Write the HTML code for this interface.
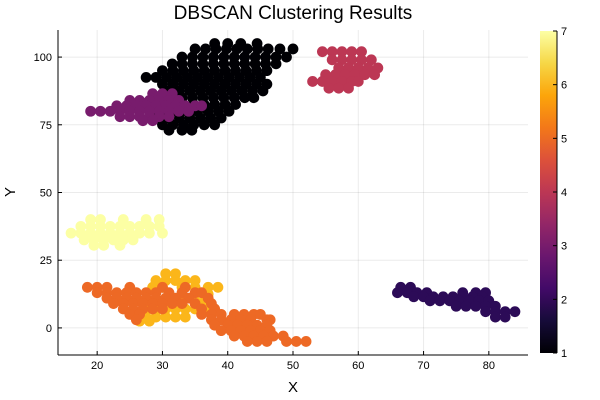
<!DOCTYPE html>
<html><head><meta charset="utf-8"><style>
body{margin:0;background:#fff}
svg{display:block;font-family:"Liberation Sans",sans-serif}
</style></head><body>
<svg id="chart" width="600" height="400" viewBox="0 0 600 400">
<defs><linearGradient id="inf" x1="0" y1="1" x2="0" y2="0">
<stop offset="0" stop-color="#000004"/><stop offset="0.1" stop-color="#160b39"/><stop offset="0.2" stop-color="#420a68"/><stop offset="0.3" stop-color="#6a176e"/><stop offset="0.4" stop-color="#932667"/><stop offset="0.5" stop-color="#bc3754"/><stop offset="0.6" stop-color="#dd513a"/><stop offset="0.7" stop-color="#f37819"/><stop offset="0.8" stop-color="#fca50a"/><stop offset="0.9" stop-color="#f6d746"/><stop offset="1" stop-color="#fcffa4"/>
</linearGradient></defs>
<text x="293" y="19" font-size="19" text-anchor="middle" fill="#000">DBSCAN Clustering Results</text>
<g id="grid"></g>
<g id="marks"></g>
<g id="axes"></g>
<text x="293" y="392" font-size="15" text-anchor="middle">X</text>
<text x="15" y="192" font-size="15" text-anchor="middle" transform="rotate(-90 15 192)">Y</text>
<rect x="540" y="31" width="17" height="322" fill="url(#inf)"/>
<g id="cbar"></g>
</svg>
<script>
const xTicks=[20,30,40,50,60,70,80];
const yTicks=[0,25,50,75,100];
const cbTicks=[1,2,3,4,5,6,7];
const clusterLabels=[1,3,4,2,7,6,5];
const clusterColors=["#000004","#781c6d","#bc3754","#2c0b57","#fcffa4","#fbb61a","#ed6925"];
const cluster1=[[38,105],[40,105],[42,105],[44.5,105],[35,103],[36.6,103],[38.2,103],[39.8,103],[41.4,103],[43,103],[44.6,103],[46.2,103],[48,103],[50,103],[33,100],[34.6,100],[36.2,100],[37.8,100],[39.4,100],[41,100],[42.6,100],[44.2,100],[45.8,100],[47.4,100],[49,100],[31.5,97.5],[33,97.5],[34.6,97.5],[36.2,97.5],[37.8,97.5],[39.4,97.5],[41,97.5],[42.6,97.5],[44.2,97.5],[45.8,97.5],[47.4,97.5],[30,95],[31.6,95],[33.2,95],[34.8,95],[36.4,95],[38,95],[39.6,95],[41.2,95],[42.8,95],[44.4,95],[46,95],[27.5,92.5],[29,92.5],[30.6,92.5],[32.2,92.5],[33.8,92.5],[35.4,92.5],[37,92.5],[38.6,92.5],[40.2,92.5],[41.8,92.5],[43.4,92.5],[45,92.5],[30,90],[31.6,90],[33.2,90],[34.8,90],[36.4,90],[38,90],[39.6,90],[41.2,90],[42.8,90],[44.4,90],[46,90],[31,87.5],[32.6,87.5],[34.2,87.5],[35.8,87.5],[37.4,87.5],[39,87.5],[40.6,87.5],[42.2,87.5],[43.8,87.5],[45.4,87.5],[31.5,85],[33,85],[34.6,85],[36.2,85],[37.8,85],[39.4,85],[41,85],[42.6,85],[44,85],[30,82.5],[31.6,82.5],[33.2,82.5],[34.8,82.5],[36.4,82.5],[38,82.5],[39.6,82.5],[41.2,82.5],[29,80],[30.6,80],[32.2,80],[33.8,80],[35.4,80],[37,80],[38.6,80],[40.2,80],[29.5,77.5],[31,77.5],[32.6,77.5],[34.2,77.5],[35.8,77.5],[37.4,77.5],[39,77.5],[30,75],[31.6,75],[33.2,75],[34.8,75],[36.4,75],[38,75],[31,73],[33,73],[34.5,73]];
const cluster3=[[28.5,86.5],[30,86.5],[31.5,86.5],[25,84],[26.5,84],[28,84],[29.5,84],[31,84],[32.5,84],[23,82],[24.5,82],[26,82],[27.5,82],[29,82],[30.5,82],[32,82],[33.5,82],[35,82],[36,82],[19,80],[20.5,80],[22,80],[23.5,80],[25,80],[26.5,80],[28,80],[29.5,80],[31,80],[32.5,80],[34,80],[23.5,78],[25,78],[26.5,78],[28,78],[29.5,78],[31,78],[27,76.5],[28.5,76.5]];
const cluster4=[[54.5,102],[56,102],[57.5,102],[59,102],[60.5,102],[56,99],[57.5,99],[59,99],[60.5,99],[62,99],[57,96],[58.5,96],[60,96],[61.5,96],[63,96],[55,93.5],[56.5,93.5],[58,93.5],[59.5,93.5],[61,93.5],[62.5,93.5],[53,91],[54.5,91],[56,91],[57.5,91],[59,91],[60,91],[55.5,88.5],[57,88.5],[58.5,88.5]];
const cluster2=[[66.5,15],[68,15],[66,13],[67.5,13],[69,13],[70.5,13],[76,13],[78,13],[79.5,13],[68.5,11.5],[70,11.5],[71.5,11.5],[73,11.5],[74.5,11.5],[76,11.5],[77.5,11.5],[79,11.5],[71,10],[72.5,10],[74,10],[75.5,10],[77,10],[78.5,10],[80,10],[75,8],[76.5,8],[78,8],[79.5,8],[81,8],[79.5,6],[81,6],[82.5,6],[84,6],[81,4],[82.5,4]];
const cluster7=[[19,40],[20.5,40],[24,40],[27.5,40],[29.5,40],[17.5,37.5],[19,37.5],[20.5,37.5],[22,37.5],[23.5,37.5],[25,37.5],[26.5,37.5],[28,37.5],[29.5,37.5],[16,35],[17.5,35],[19,35],[20.5,35],[22,35],[23.5,35],[25,35],[26.5,35],[28,35],[30,35],[18,32.5],[19.5,32.5],[21,32.5],[22.5,32.5],[24,32.5],[25.5,32.5],[19.5,30.5],[21,30.5],[23.5,30.5]];
const cluster6=[[30.5,20],[32,20],[29,17.5],[30.5,17.5],[32,17.5],[33.5,17.5],[35,17.5],[28.5,15],[30,15],[33,15],[35,15],[37,15],[38.5,15],[31,12.5],[35,12.5],[37,12.5],[29,10],[33,10],[35,10],[36.5,10],[27.5,7],[29,7],[30.5,7],[32,7],[33.5,7],[35,7],[36.5,7],[37.5,7],[26,4],[27.5,4],[29,4],[30.5,4],[32,4],[33.5,4],[26.5,2.5],[28,2.5]];
const cluster5=[[18.5,15],[20,15],[21.5,15],[25,15],[30,15],[33.5,15],[20,13],[21.5,13],[23,13],[24.5,13],[26,13],[27.5,13],[29,13],[31,13],[33,13],[35,13],[36,13],[21.5,11],[23,11],[24.5,11],[26,11],[27.5,11],[29,11],[30.5,11],[32,11],[34,11],[37,11],[22.5,9],[24,9],[25.5,9],[27,9],[28.5,9],[30,9],[31.5,9],[33,9],[35,9],[37.5,9],[24,7],[25.5,7],[27,7],[28.5,7],[30,7],[36,7],[38,7],[25,5],[26.5,5],[36,5],[37.5,5],[39,5],[41,5],[42.5,5],[44,5],[45,5],[26,3],[37.5,3],[39,3],[40.5,3],[42,3],[43.5,3],[46,3],[46.5,3],[38,1],[40,1],[41.5,1],[43,1],[44.5,1],[46,1],[39,-1],[40.5,-1],[42,-1],[43.5,-1],[45,-1],[46.5,-1],[41,-3],[42.5,-3],[44,-3],[45.5,-3],[47,-3],[48.5,-3],[43,-5],[44.5,-5],[46,-5],[49,-5],[50.5,-5],[52,-5]];
const clusters=[cluster1,cluster3,cluster4,cluster2,cluster7,cluster6,cluster5];

const L=58,R=528,T=30,B=355,XMIN=14,XMAX=86,YMIN=-10,YMAX=110;
const sx=v=>L+(v-XMIN)/(XMAX-XMIN)*(R-L);
const sy=v=>B-(v-YMIN)/(YMAX-YMIN)*(B-T);
const cy=v=>353-(v-1)/6*322;
const NS="http://www.w3.org/2000/svg";
function mk(tag,attrs,parent){const e=document.createElementNS(NS,tag);for(const k in attrs)e.setAttribute(k,attrs[k]);parent.appendChild(e);return e;}
const grid=document.getElementById('grid'),axes=document.getElementById('axes'),marks=document.getElementById('marks'),cbar=document.getElementById('cbar');
xTicks.forEach(t=>{
  const g=mk('line',{x1:sx(t),x2:sx(t),y1:T,y2:B,stroke:'#000','stroke-opacity':0.08,'stroke-width':1},grid);
  
  
  const tk=mk('line',{x1:sx(t),x2:sx(t),y1:B,y2:B-4,stroke:'#000','stroke-width':1},axes);
  
  
  const tx=mk('text',{x:sx(t),y:B+14,'font-size':11,'text-anchor':'middle'},axes);tx.textContent=t;
  
  
});
yTicks.forEach(t=>{
  const g=mk('line',{x1:L,x2:R,y1:sy(t),y2:sy(t),stroke:'#000','stroke-opacity':0.08,'stroke-width':1},grid);
  
  
  const tk=mk('line',{x1:L,x2:L+4,y1:sy(t),y2:sy(t),stroke:'#000','stroke-width':1},axes);
  
  
  const tx=mk('text',{x:L-6,y:sy(t)+4,'font-size':11,'text-anchor':'end'},axes);tx.textContent=t;
  
  
});
const ax1=mk('line',{x1:L,x2:R,y1:B,y2:B,stroke:'#000','stroke-width':1},axes);


const ax2=mk('line',{x1:L,x2:L,y1:T,y2:B,stroke:'#000','stroke-width':1},axes);


clusters.forEach((pts,i)=>{
  pts.forEach(p=>{
    const c=mk('circle',{cx:sx(p[0]),cy:sy(p[1]),r:5.4,fill:clusterColors[i]},marks);
    
    
  });
});
const cl=mk('line',{x1:557,x2:557,y1:31,y2:353,stroke:'#000','stroke-width':1},cbar);


cbTicks.forEach(t=>{
  const tk=mk('line',{x1:553,x2:557,y1:cy(t),y2:cy(t),stroke:'#000','stroke-width':1},cbar);
  
  
  const tx=mk('text',{x:561,y:cy(t)+4,'font-size':11},cbar);tx.textContent=t;
  
  
});
</script>
</body></html>
